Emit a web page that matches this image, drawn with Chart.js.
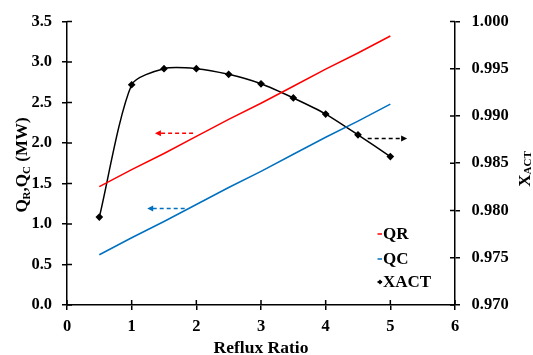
<!DOCTYPE html>
<html>
<head>
<meta charset="utf-8">
<script src="https://cdn.jsdelivr.net/npm/chart.js@4.4.1/dist/chart.umd.min.js"></script>
<style>
  html, body { margin: 0; padding: 0; background: #fff; }
  #wrap { width: 533px; height: 355px; }
</style>
</head>
<body>
<div id="wrap"><canvas id="myChart" width="533" height="355"></canvas></div>
<script>
// Data
const refluxRatio = [0.5, 1.0, 1.5, 2.0, 2.5, 3.0, 3.5, 4.0, 4.5, 5.0]
const qrValues = [1.46, 1.67, 1.87, 2.08, 2.29, 2.49, 2.70, 2.91, 3.11, 3.32]
const qcValues = [0.62, 0.83, 1.03, 1.24, 1.45, 1.65, 1.86, 2.07, 2.27, 2.48]
const xactValues = [0.9793, 0.9933, 0.9950, 0.9950, 0.9944, 0.9934, 0.9919, 0.9902, 0.9880, 0.9857]
const seriesNames = ['QR', 'QC', 'XACT']

// Dashed arrows that point each curve at its axis (data coordinates)
const arrows = [
  { from: 1.95, to: 1.36, at: 2.12, axis: 'y', color: '#FF0000' },
  { from: 1.82, to: 1.24, at: 1.19, axis: 'y', color: '#0070C0' },
  { from: 4.65, to: 5.26, at: 0.9876, axis: 'y1', color: '#000000' }
]

const FONT = '"Liberation Serif", "Times New Roman", serif'
const RED = '#FF0000'
const BLUE = '#0070C0'

function toPoints(xs, ys) {
  return xs.map((v, i) => ({ x: v, y: ys[i] }))
}

// write a text made of parts (normal + subscript) centred on 0
function drawParts(ctx, parts) {
  let total = 0
  parts.forEach(p => { ctx.font = p[1]; total += ctx.measureText(p[0]).width })
  let cx = -total / 2
  parts.forEach(p => {
    ctx.font = p[1]
    ctx.fillText(p[0], cx, p[2])
    cx += ctx.measureText(p[0]).width
  })
}

// draws tick marks on the inner side + arrows + legend + axis titles
const overlay = {
  id: 'overlay',
  afterDraw(chart) {
    const ctx = chart.ctx
    const { x, y, y1 } = chart.scales
    const area = chart.chartArea
    ctx.save()
    ctx.strokeStyle = '#000'
    ctx.lineWidth = 1.5
    ctx.beginPath()
    x.ticks.forEach(t => {
      const px = x.getPixelForValue(t.value)
      ctx.moveTo(px, area.bottom)
      ctx.lineTo(px, area.bottom - 5)
    })
    y.ticks.forEach(t => {
      const py = y.getPixelForValue(t.value)
      ctx.moveTo(area.left, py)
      ctx.lineTo(area.left + 5, py)
    })
    y1.ticks.forEach(t => {
      const py = y1.getPixelForValue(t.value)
      ctx.moveTo(area.right, py)
      ctx.lineTo(area.right - 5, py)
    })
    ctx.stroke()

    // arrows
    arrows.forEach(a => {
      const sc = chart.scales[a.axis]
      const x0 = x.getPixelForValue(a.from)
      const x1 = x.getPixelForValue(a.to)
      const py = sc.getPixelForValue(a.at)
      const dir = x1 > x0 ? 1 : -1
      ctx.strokeStyle = a.color
      ctx.fillStyle = a.color
      ctx.lineWidth = 1.5
      ctx.setLineDash([4, 3])
      ctx.beginPath()
      ctx.moveTo(x0, py)
      ctx.lineTo(x1 - dir * 4, py)
      ctx.stroke()
      ctx.setLineDash([])
      ctx.beginPath()
      ctx.moveTo(x1, py)
      ctx.lineTo(x1 - dir * 6, py - 3)
      ctx.lineTo(x1 - dir * 6, py + 3)
      ctx.closePath()
      ctx.fill()
    })

    // legend inside the plot
    const legendColors = [RED, BLUE, '#000']
    const rows = [234, 259, 282]
    ctx.font = 'bold 17px ' + FONT
    ctx.textBaseline = 'middle'
    ctx.textAlign = 'left'
    seriesNames.forEach((name, i) => {
      const ly = rows[i]
      ctx.strokeStyle = legendColors[i]
      ctx.fillStyle = legendColors[i]
      ctx.lineWidth = 1.5
      ctx.beginPath()
      ctx.moveTo(377.5, ly)
      ctx.lineTo(382, ly)
      ctx.stroke()
      if (i === 2) {
        ctx.beginPath()
        ctx.moveTo(380, ly - 2.5)
        ctx.lineTo(382.5, ly)
        ctx.lineTo(380, ly + 2.5)
        ctx.lineTo(377.5, ly)
        ctx.closePath()
        ctx.fill()
      }
      ctx.fillStyle = '#000'
      ctx.fillText(name, 383, ly + 1)
    })

    // x title
    ctx.font = 'bold 17.5px ' + FONT
    ctx.textAlign = 'center'
    ctx.textBaseline = 'alphabetic'
    ctx.fillStyle = '#000'
    ctx.fillText('Reflux Ratio', (area.left + area.right) / 2, 353)

    const big = 'bold 17px ' + FONT
    const small = 'bold 11px ' + FONT
    ctx.textAlign = 'left'

    // left title Q_R,Q_C (MW)
    ctx.save()
    ctx.translate(26.5, 165)
    ctx.rotate(-Math.PI / 2)
    drawParts(ctx, [['Q', big, 0], ['R', small, 3.5], [',', big, 0], ['Q', big, 0], ['C', small, 3.5], [' (MW)', big, 0]])
    ctx.restore()

    // right title X_ACT
    ctx.save()
    ctx.translate(529.5, 169)
    ctx.rotate(-Math.PI / 2)
    drawParts(ctx, [['X', big, 0], ['ACT', small, 1]])
    ctx.restore()

    ctx.restore()
  }
}

const tickFont = { family: FONT, size: 16.5, weight: 'bold' }
const axisGrid = { display: true, drawOnChartArea: false, drawTicks: true, tickLength: 5, color: '#000', lineWidth: 1.5 }
const axisBorder = { display: true, color: '#000', width: 1.5 }

const ctx = document.getElementById('myChart')

new Chart(ctx, {
  type: 'line',
  data: {
    datasets: [
      {
        label: seriesNames[0],
        data: toPoints(refluxRatio, qrValues),
        borderColor: RED,
        backgroundColor: RED,
        borderWidth: 1.5,
        pointRadius: 0,
        yAxisID: 'y'
      },
      {
        label: seriesNames[1],
        data: toPoints(refluxRatio, qcValues),
        borderColor: BLUE,
        backgroundColor: BLUE,
        borderWidth: 1.5,
        pointRadius: 0,
        yAxisID: 'y'
      },
      {
        label: seriesNames[2],
        data: toPoints(refluxRatio, xactValues),
        borderColor: '#000',
        backgroundColor: '#000',
        borderWidth: 1.5,
        pointStyle: 'rectRot',
        pointRadius: 2.8,
        tension: 0.25,
        yAxisID: 'y1'
      }
    ]
  },
  options: {
    responsive: false,
    animation: false,
    events: [],
    layout: { padding: { top: 19.5, left: 0, right: 0, bottom: 0 } },
    plugins: {
      legend: { display: false },
      tooltip: { enabled: false }
    },
    scales: {
      x: {
        type: 'linear',
        min: 0,
        max: 6,
        ticks: { stepSize: 1, font: tickFont, color: '#000', padding: 7 },
        grid: axisGrid,
        border: axisBorder,
        afterFit: s => { s.height = 50 }
      },
      y: {
        position: 'left',
        min: 0,
        max: 3.5,
        ticks: { stepSize: 0.5, font: tickFont, color: '#000', padding: 10, callback: v => v.toFixed(1) },
        grid: axisGrid,
        border: axisBorder,
        afterFit: s => { s.width = 67 }
      },
      y1: {
        position: 'right',
        min: 0.97,
        max: 1.0,
        ticks: { stepSize: 0.005, font: tickFont, color: '#000', padding: 11.5, callback: v => v.toFixed(3) },
        grid: axisGrid,
        border: axisBorder,
        afterFit: s => { s.width = 78 }
      }
    }
  },
  plugins: [overlay]
})
</script>
</body>
</html>
